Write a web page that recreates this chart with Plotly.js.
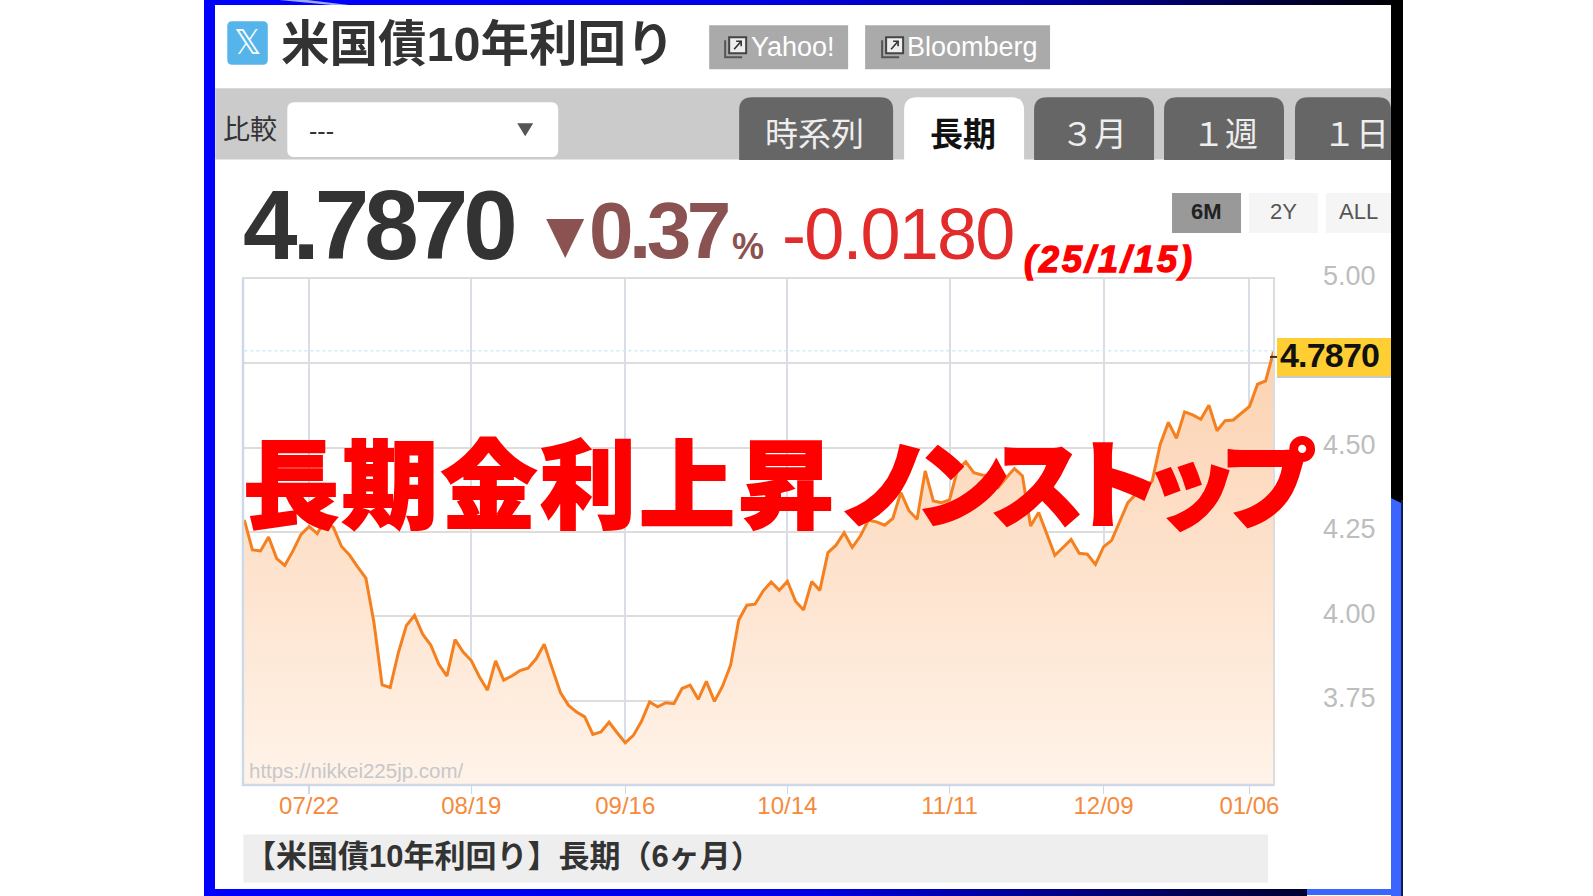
<!DOCTYPE html>
<html><head><meta charset="utf-8">
<script src="https://cdn.plot.ly/plotly-3.0.1.min.js"></script>
<style>
html,body{margin:0;padding:0;background:#fff;width:1593px;height:896px;overflow:hidden}
#wrap{position:relative;width:1593px;height:896px}
.f{position:absolute}
#chart{position:absolute;left:0;top:0;width:1593px;height:896px}
</style></head><body>
<div id="wrap">
<div class="f" style="left:204px;top:0;width:1199px;height:5px;background:linear-gradient(90deg,#0000ff 0,#0000e6 45%,#00009a 72%,#000 100%)"></div>
<div class="f" style="left:279px;top:0;width:70px;height:5px;background:#9aa8ff;clip-path:polygon(0 0,40% 0,100% 100%,75% 100%)"></div>
<div class="f" style="left:204px;top:0;width:11px;height:896px;background:#0000ff"></div>
<div class="f" style="left:1391px;top:0;width:12px;height:504px;background:#000"></div>
<div class="f" style="left:1391px;top:498px;width:12px;height:398px;background:#3a66ff;clip-path:polygon(0 0,100% 6px,100% 100%,0 100%);border-right:0"></div>
<div class="f" style="left:1401px;top:500px;width:2px;height:396px;background:#101a55"></div>
<div class="f" style="left:204px;top:889px;width:1103px;height:7px;background:linear-gradient(90deg,#0000ff 0,#0000e6 55%,#000050 90%,#000030 100%)"></div>
<div class="f" style="left:1307px;top:889px;width:94px;height:6px;background:#3a66ff"></div>
<div id="chart"></div>
</div>
<script>
// ---- data ----
const yields = [
4.286,4.197,4.194,4.235,4.171,4.151,4.194,4.243,4.266,4.245,
4.288,4.263,4.207,4.181,4.146,4.113,3.981,3.797,3.789,3.892,
3.973,4.003,3.947,3.915,3.858,3.823,3.931,3.894,3.869,3.821,
3.781,3.868,3.811,3.823,3.839,3.846,3.874,3.917,3.845,3.774,
3.736,3.716,3.702,3.650,3.657,3.686,3.655,3.625,3.647,3.689,
3.746,3.732,3.744,3.741,3.786,3.796,3.754,3.807,3.748,3.793,
3.856,3.989,4.033,4.036,4.075,4.102,4.077,4.104,4.045,4.019,
4.103,4.077,4.189,4.211,4.248,4.204,4.238,4.285,4.280,4.270,
4.290,4.367,4.313,4.288,4.431,4.342,4.337,4.345,4.436,4.458,
4.426,4.419,4.416,4.382,4.411,4.438,4.416,4.268,4.308,4.243,
4.181,4.204,4.228,4.187,4.184,4.154,4.206,4.225,4.283,4.337,
4.362,4.382,4.401,4.510,4.575,4.528,4.606,4.597,4.584,4.626,
4.550,4.580,4.582,4.602,4.622,4.688,4.698,4.787];
const xTickSessions = [8,28,47,67,87,106,124];
const xTickLabels = ['07/22','08/19','09/16','10/14','11/11','12/09','01/06'];
const yTickValues = [5,4.75,4.5,4.25,4,3.75];
const yTickLabels = ['5.00','','4.50','4.25','4.00','3.75'];
const lastValue = 4.787;
const tabs = ['時系列','長期','３月','１週','１日'];
const ranges = ['6M','2Y','ALL'];

// ---- page geometry ----
const L=242.7,R=1274,TOP=279,BOT=785.5,W=R-L,H=BOT-TOP;
const X=p=>(p-L)/W, Y=p=>(BOT-p)/H;
const shapes=[], ann=[];
const JP='"Noto Sans CJK JP"', SANS='"Liberation Sans","Noto Sans CJK JP"';
function rect(x0,y0,x1,y1,fill,line){shapes.push({type:'rect',xref:'paper',yref:'paper',x0:X(x0),x1:X(x1),y0:Y(y1),y1:Y(y0),fillcolor:fill,line:line?{color:line.c,width:line.w}:{width:0}});}
function rr(x0,y0,x1,y1,r,fill,topOnly){
  const P=(x,y)=>X(x)+','+Y(y);
  let d='M'+P(x0+r,y0)+' L'+P(x1-r,y0)+' Q'+P(x1,y0)+' '+P(x1,y0+r);
  if(topOnly) d+=' L'+P(x1,y1)+' L'+P(x0,y1);
  else d+=' L'+P(x1,y1-r)+' Q'+P(x1,y1)+' '+P(x1-r,y1)+' L'+P(x0+r,y1)+' Q'+P(x0,y1)+' '+P(x0,y1-r);
  d+=' L'+P(x0,y0+r)+' Q'+P(x0,y0)+' '+P(x0+r,y0)+' Z';
  shapes.push({type:'path',xref:'paper',yref:'paper',path:d,fillcolor:fill,line:{width:0}});
}
function poly(pts,fill,stroke){
  const d='M'+pts.map(p=>X(p[0])+','+Y(p[1])).join(' L')+(fill?' Z':'');
  shapes.push({type:'path',xref:'paper',yref:'paper',path:d,fillcolor:fill||'rgba(0,0,0,0)',line:stroke?{color:stroke.c,width:stroke.w}:{width:0}});
}
function T(text,x,y,size,color,o={}){
  const s=o.style?`<span style="${o.style}">${text}</span>`:text;
  ann.push({xref:'paper',yref:'paper',x:X(x),y:Y(y),text:o.raw||s,showarrow:false,xanchor:o.a||'left',yanchor:'middle',borderpad:0,borderwidth:0,
    font:{family:o.f||SANS,size,color,weight:o.w||400},opacity:o.op===undefined?1:o.op});
}
function linkIcon(x,y){
  poly([[x,y+3],[x,y+20],[x+17,y+20]],null,{c:'#555',w:2});
  rect(x+4,y,x+21,y+16,'#eee',{c:'#444',w:2});
  poly([[x+9,y+12],[x+16,y+4]],null,{c:'#333',w:1.6});
  poly([[x+11,y+4],[x+16,y+4],[x+16,y+9]],null,{c:'#333',w:1.6});
}

// header
rr(227,21,267.5,64.5,5,'#55b4ea');
T('𝕏',247,42,34,'#ffffff',{a:'center',f:'"DejaVu Sans"'});
T('米国債10年利回り',281,44,48.5,'#333333',{w:700});
rect(709,25,848,69,'#aaaaaa'); linkIcon(725,37);
T('Yahoo!',751,47,27,'#ffffff');
rect(865,25,1050,69,'#aaaaaa'); linkIcon(882,37);
T('Bloomberg',907,47,27,'#ffffff');
// tab bar
rect(215,88,1391,159.5,'#cbcbcb');
T('比較',223,127,27,'#333333',{f:JP});
rr(287,102,558,157,7,'#ffffff');
T('---',309,131,25,'#333333');
poly([[517,123],[533,123],[525,136]],'#555555');
const tabX=[[739,893],[904,1024],[1034,1154],[1164,1284],[1295,1391]];
const tabC=[814,963,1094,1225,1356];
tabs.forEach((t,i)=>{
  const on=i===1;
  rr(tabX[i][0],97,tabX[i][1],160,13,on?'#ffffff':'#666666',true);
  T(t,tabC[i],132,33,on?'#111111':'#eeeeee',{a:'center',f:JP,w:on?700:400});
});
// price row
T('4.7870',243,225,98,'#333333',{w:700,style:'letter-spacing:-5px'});
poly([[546,219],[584,219],[565,258]],'#8b5252');
T('0.37',589,230,80,'#8b5252',{w:700,style:'letter-spacing:-4.5px'});
T('%',732,246,36,'#8b5252',{w:700,style:'letter-spacing:-1px'});
T('-0.0180',782,234,72,'#e22b2b',{style:'letter-spacing:-1.8px'});
T('(25/1/15)',1024,259,36,'#ff0000',{w:900,f:'"Liberation Sans"',style:'font-style:italic;letter-spacing:3px;stroke:#f00;stroke-width:1.4px'});
// range buttons
[[1172,1241,'#999999'],[1249,1318,'#f5f5f5'],[1326,1391,'#f5f5f5']].forEach((b,i)=>{
  rect(b[0],193,b[1],233,b[2]);
  T(ranges[i],(b[0]+b[1])/2,211,22,i===0?'#222222':'#555555',{a:'center',w:i===0?700:400});
});
// plot border
rect(L,TOP-1,R,BOT,'rgba(0,0,0,0)',{c:'#dcdcdc',w:2});
poly([[L,TOP],[L,BOT],[R,BOT]],null,{c:'#cfd8e6',w:2.5});
// last-value tag
poly([[1270,357],[1277,357]],null,{c:'#333',w:2});
rect(1277,340,1391,378,'#c9c9c9');
rect(1277,338,1391,376,'#ffce33');
T('4.7870',1280,355,34,'#111111',{w:700,style:'letter-spacing:-0.8px'});
// watermark
T('https://nikkei225jp.com/',249,771,20.5,'#bfc3c9',{op:.9});
// caption
rect(243,835,1268,883,'#eeeeee');
T('【米国債10年利回り】長期（6ヶ月）',245,857,31,'#333333',{w:700});
// banner
T('長期金利上昇ノンストップ',243,479,96,'#ff0000',{f:JP,w:900,
  raw:'<span style="letter-spacing:3px;stroke:#f00;stroke-width:2px">長期金利上昇</span><span style="letter-spacing:-19px;stroke:#f00;stroke-width:2px">ノンストップ</span>'});

const sessions=yields.map((_,i)=>i);
Plotly.newPlot('chart',[
 {type:'scatter',mode:'lines',x:sessions,y:yields,fill:'tozeroy',
  fillgradient:{type:'vertical',start:lastValue,stop:3.5,colorscale:[[0,'#fcd2b1'],[1,'#fff3e9']]},
  line:{color:'#f5801f',width:3,shape:'linear'},hoverinfo:'skip'},
 {type:'scatter',mode:'lines',x:[sessions[0],sessions[sessions.length-1]],y:[lastValue,lastValue],
  line:{color:'#cdebf5',width:1.5,dash:'dot'},hoverinfo:'skip'}
],{
 width:1593,height:896,showlegend:false,paper_bgcolor:'rgba(0,0,0,0)',plot_bgcolor:'#ffffff',
 margin:{l:L,r:1593-R,t:TOP,b:896-BOT,pad:0,autoexpand:false},
 font:{family:SANS},
 xaxis:{type:'linear',range:[-0.16,127.03],tickmode:'array',tickvals:xTickSessions,ticktext:xTickLabels,
   ticks:'outside',ticklen:8,tickcolor:'#cfd8e6',tickwidth:1.5,showgrid:true,gridcolor:'#d9dee6',gridwidth:2,zeroline:false,showline:false,ticklabelstandoff:-9,
   tickfont:{size:24,color:'#f58a3c',family:'"Liberation Sans"'}},
 yaxis:{type:'linear',range:[3.5,5],side:'right',tickmode:'array',tickvals:yTickValues,ticktext:yTickLabels,
   ticks:'',showgrid:true,gridcolor:'#dddddd',gridwidth:2,zeroline:false,showline:false,ticklabelstandoff:48,ticklabelshift:-3,
   tickfont:{size:27,color:'#bdbdbd',family:'"Liberation Sans"'}},
 shapes,annotations:ann
},{staticPlot:true,displayModeBar:false});
</script>
</body></html>
